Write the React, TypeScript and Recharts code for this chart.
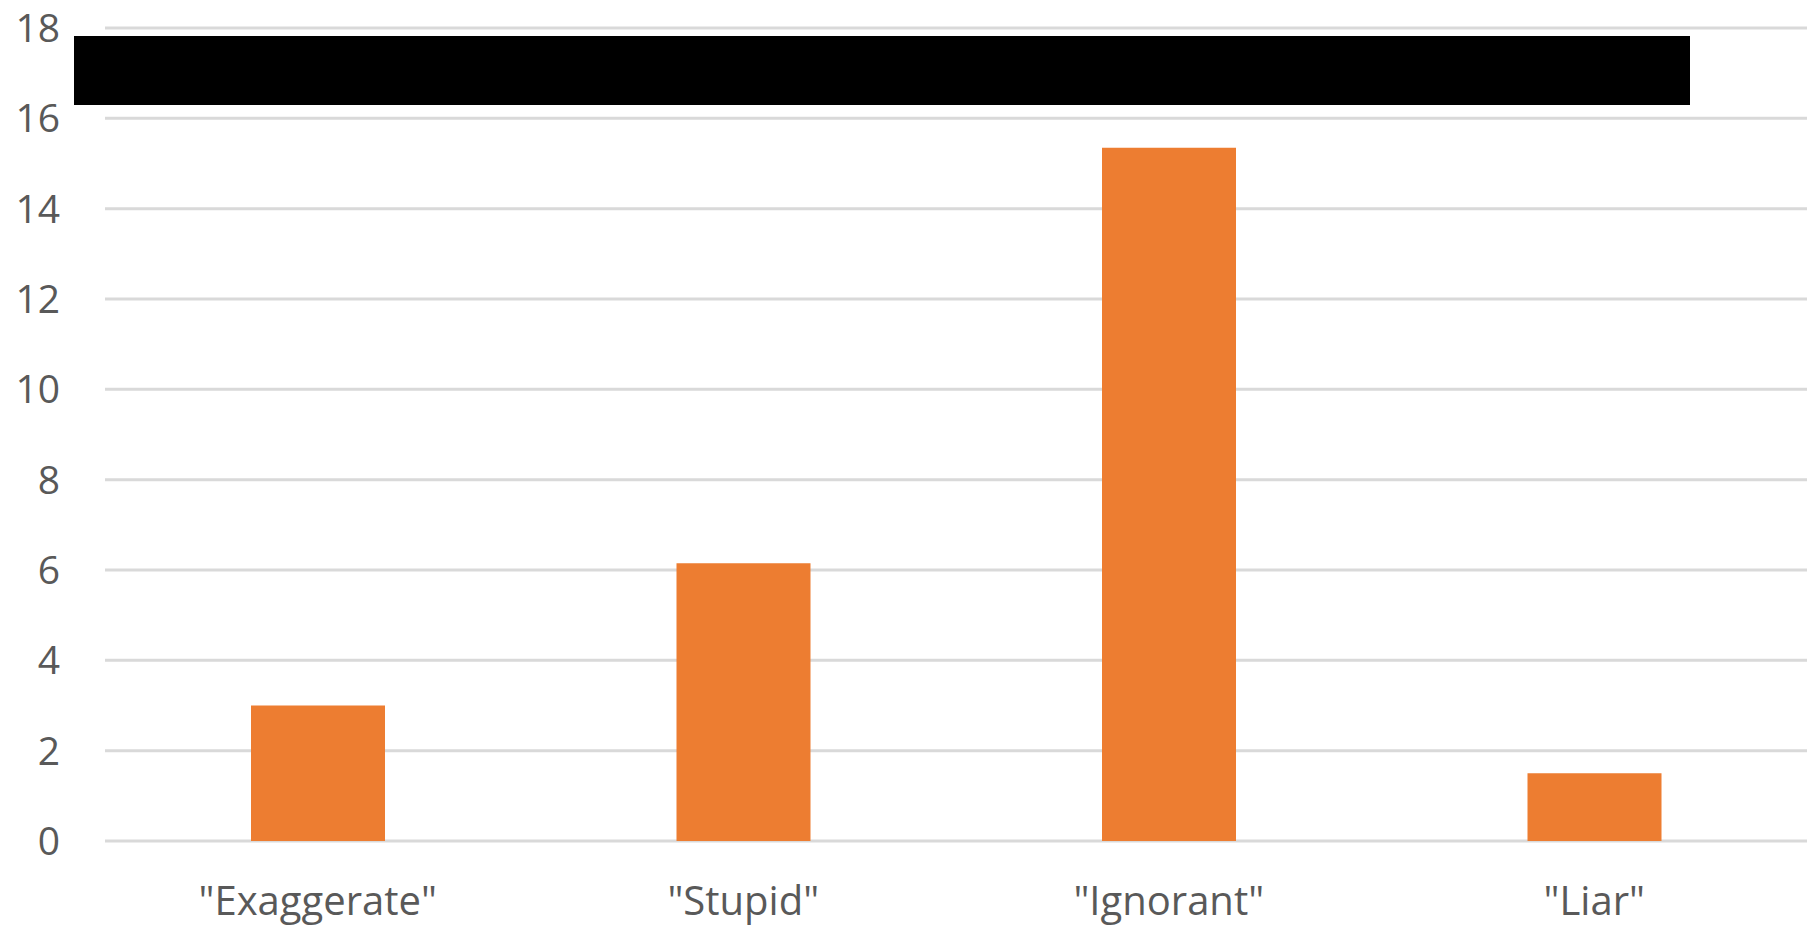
import React from "react";
import { BarChart, Bar, XAxis, YAxis, CartesianGrid } from "recharts";

const categories = ['"Exaggerate"', '"Stupid"', '"Ignorant"', '"Liar"'];
const counts = [3, 6.15, 15.35, 1.5];
const yTicks = [0, 2, 4, 6, 8, 10, 12, 14, 16, 18];

const data = categories.map((name, i) => ({ name, value: counts[i] }));

const FONT = "'Open Sans', sans-serif";

export default function App() {
  return (
    <div style={{ position: "absolute", left: 0, top: 0, width: 1810, height: 931, background: "#fff" }}>
      <BarChart
        width={1810}
        height={931}
        data={data}
        margin={{ top: 28, right: 3, left: 0, bottom: 0 }}
      >
        <CartesianGrid vertical={false} stroke="#d9d9d9" strokeWidth={3} />
        <XAxis
          dataKey="name"
          height={90}
          axisLine={false}
          tickLine={false}
          tickSize={0}
          tickMargin={46}
          interval={0}
          tick={{ fill: "#595959", fontSize: 40, fontFamily: FONT }}
        />
        <YAxis
          width={105}
          domain={[0, 18]}
          ticks={yTicks}
          axisLine={false}
          tickLine={false}
          tickSize={0}
          tickMargin={45}
          tick={{ fill: "#595959", fontSize: 39, fontFamily: FONT }}
        />
        <Bar dataKey="value" fill="#ED7D31" barSize={134} isAnimationActive={false} />
      </BarChart>
      <div
        style={{ position: "absolute", left: 74, top: 36, width: 1616, height: 69, background: "#000" }}
      />
    </div>
  );
}
